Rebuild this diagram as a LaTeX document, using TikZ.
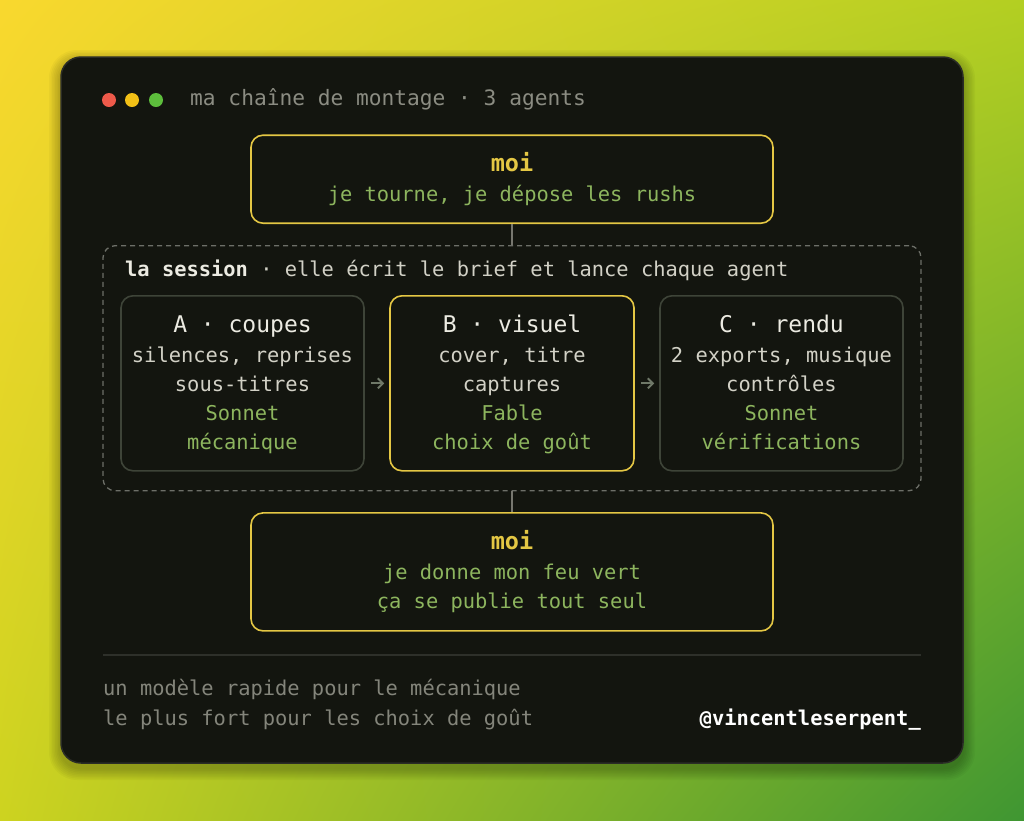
\documentclass[tikz,border=0pt]{standalone}
\usepackage{fontspec}
\setmainfont{DejaVu Sans Mono}
\setmonofont{DejaVu Sans Mono}
\usetikzlibrary{arrows.meta,shadings}

\definecolor{bgyl}{HTML}{F9D82E}
\definecolor{bgyr}{HTML}{B3CF22}
\definecolor{bgll}{HTML}{CDD320}
\definecolor{bglr}{HTML}{3F9632}
\definecolor{winbg}{HTML}{13150F}
\definecolor{winedge}{HTML}{2A2C26}
\definecolor{moiyel}{HTML}{E4C744}
\definecolor{agentgray}{HTML}{3E4438}
\definecolor{dashgray}{HTML}{6D6F68}
\definecolor{linkgray}{HTML}{77776F}
\definecolor{arrgray}{HTML}{6F7868}
\definecolor{hdwhite}{HTML}{ECEBE2}
\definecolor{detgray}{HTML}{D2D1C6}
\definecolor{mdlgreen}{HTML}{8DB55E}
\definecolor{titlegray}{HTML}{8B8C82}
\definecolor{footgray}{HTML}{84857B}
\definecolor{sepgray}{HTML}{2E302A}
\definecolor{dotred}{HTML}{EE5A4A}
\definecolor{dotyel}{HTML}{F2C016}
\definecolor{dotgreen}{HTML}{5DBE3C}

\tikzset{
  panel/.style={rounded corners=12, line width=1.6, fill=winbg, inner sep=0},
  moibox/.style={panel, draw=moiyel},
  agentbox/.style={panel, draw=agentgray},
  pickbox/.style={panel, draw=moiyel},
  sessbox/.style={draw=dashgray, dash pattern=on 5pt off 4pt, line width=1.3, rounded corners=12, inner sep=0},
  link/.style={draw=linkgray, line width=1.5},
  handoff/.style={draw=arrgray, line width=1.9, -{Straight Barb[length=5pt, width=10pt]}, shorten <=6pt, shorten >=5pt},
  hd/.style={anchor=base, inner sep=0, text=hdwhite, font=\fontsize{23}{28}\selectfont},
  det/.style={anchor=base, inner sep=0, text=detgray, font=\fontsize{20.4}{24}\selectfont},
  mdl/.style={det, text=mdlgreen},
  moi/.style={anchor=base, inner sep=0, text=moiyel, font=\bfseries\fontsize{23.5}{28}\selectfont},
  foot/.style={anchor=base west, inner sep=0, text=footgray, font=\fontsize{20.4}{24}\selectfont}
}

\begin{document}
\begin{tikzpicture}[x=1pt, y=-1pt]
  % background
  \shade[upper left=bgyl, upper right=bgyr, lower left=bgll, lower right=bglr] (0,0) rectangle (1024,820);
  \useasboundingbox (0,0) rectangle (1024,820);

  % window and its soft shadow
  \foreach \i in {1,...,8}
    \fill[black, opacity=0.03, rounded corners=20+\i] ({61-1.5*\i},{62-1.5*\i}) rectangle ({963+1.5*\i},{768+1.5*\i});
  \node[draw=winedge, fill=winbg, line width=1.5, rounded corners=20, minimum width=902, minimum height=706, inner sep=0] (win) at (512,410) {};

  % title bar
  \fill[dotred] (109,100) circle (7);
  \fill[dotyel] (132,100) circle (7);
  \fill[dotgreen] (156,100) circle (7);
  \node[anchor=base west, inner sep=0, text=titlegray, font=\fontsize{21.2}{25}\selectfont] (title) at (190,105.7) {ma chaîne de montage · 3 agents};

  % boxes
  \node[sessbox, minimum width=818, minimum height=245] (sess) at (512,368.2) {};
  \node[moibox, minimum width=522, minimum height=88] (top) at (512,179.2) {};
  \node[agentbox, minimum width=243, minimum height=175] (A) at (242.5,383.3) {};
  \node[pickbox, minimum width=244, minimum height=175] (B) at (512,383.3) {};
  \node[agentbox, minimum width=243, minimum height=175] (C) at (781.5,383.3) {};
  \node[moibox, minimum width=522, minimum height=118] (bot) at (512,571.9) {};

  % top box
  \node[moi] (topT) at (512,171) {moi};
  \node[mdl] (topS) at (512,201.7) {je tourne, je dépose les rushs};

  % session
  \node[det, anchor=base west] (sessT) at (125,276.7) {{\bfseries\color{hdwhite}la session} · elle écrit le brief et lance chaque agent};

  % agent A
  \node[hd] (aT) at (242.5,332) {A · coupes};
  \node[det] (a1) at (242.5,362) {silences, reprises};
  \node[det] (a2) at (242.5,391.5) {sous-titres};
  \node[mdl] (a3) at (242.5,420.5) {Sonnet};
  \node[mdl] (a4) at (242.5,449.5) {mécanique};

  % agent B
  \node[hd] (bT) at (512,332) {B · visuel};
  \node[det] (b1) at (512,362) {cover, titre};
  \node[det] (b2) at (512,391.5) {captures};
  \node[mdl] (b3) at (512,420.5) {Fable};
  \node[mdl] (b4) at (512,449.5) {choix de goût};

  % agent C
  \node[hd] (cT) at (781.5,332) {C · rendu};
  \node[det] (c1) at (781.5,362) {2 exports, musique};
  \node[det] (c2) at (781.5,391.5) {contrôles};
  \node[mdl] (c3) at (781.5,420.5) {Sonnet};
  \node[mdl] (c4) at (781.5,449.5) {vérifications};

  % bottom box
  \node[moi] (botT) at (512,549) {moi};
  \node[mdl] (bot1) at (512,579.3) {je donne mon feu vert};
  \node[mdl] (bot2) at (512,608.3) {ça se publie tout seul};

  % links
  \draw[link] (top.south) -- (sess.north);
  \draw[link] (sess.south) -- (bot.north);
  \draw[handoff] (A.east) -- (B.west);
  \draw[handoff] (B.east) -- (C.west);

  % footer
  \draw[sepgray, line width=1.5] (103,655) -- (921,655);
  \node[foot] (f1) at (103,695) {un modèle rapide pour le mécanique};
  \node[foot] (f2) at (103,725) {le plus fort pour les choix de goût};
  \node[anchor=base east, inner sep=0, text=white, font=\bfseries\fontsize{20.4}{24}\selectfont] (handle) at (921,725) {@vincentleserpent\_};
\end{tikzpicture}
\end{document}
